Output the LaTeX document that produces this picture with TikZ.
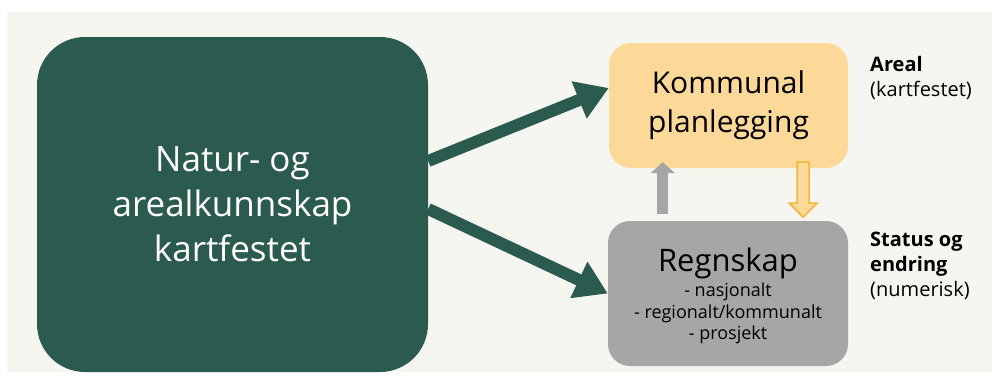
\documentclass[tikz,border=0pt]{standalone}
\usepackage{fontspec}
\setmainfont{Open Sans}
\usetikzlibrary{arrows.meta,calc}

\definecolor{panelbg}{RGB}{246,246,240}
\definecolor{darkgreen}{RGB}{43,91,78}
\definecolor{lightorange}{RGB}{253,217,153}
\definecolor{lineorange}{RGB}{245,180,60}
\definecolor{boxgrey}{RGB}{166,166,166}

\begin{document}
\begin{tikzpicture}[x=1pt,y=1pt]
    \tikzstyle{every node}=[inner sep=0pt]
    \tikzstyle{box}=[rounded corners=22pt]
    \tikzstyle{greenarrow}=[darkgreen,line width=12pt,-{Triangle[length=32pt,width=38pt]}]
    \tikzstyle{greyarrow}=[boxgrey,line width=11pt,-{Triangle[length=11pt,width=24pt]}]

    \useasboundingbox (0,0) rectangle (992,376);
    \fill[panelbg] (7,4) rectangle (992,364);

    \node[box,rounded corners=48pt,fill=darkgreen,minimum width=391pt,minimum height=335pt,
    text=white,align=center,font=\fontsize{35}{45}\selectfont] (natur) at (232.5,171.5)
    {Natur- og\\arealkunnskap\\kartfestet};

    \node[box,fill=lightorange,minimum width=239pt,minimum height=125pt,align=center,
    font=\fontsize{30}{39}\selectfont] (kommunal) at (728.5,270.5) {Kommunal\\planlegging};

    \node[box,fill=boxgrey,minimum width=240pt,minimum height=145pt] (regnskap) at (728,82.5) {};
    \node[anchor=base,font=\fontsize{31}{33}\selectfont] (regnskaptitle) at (728,105) {Regnskap};
    \node[anchor=north,align=center,font=\fontsize{18}{21.5}\selectfont] (regnskapliste)
    at (728,93) {- nasjonalt\\- regionalt/kommunalt\\- prosjekt};

    \node[anchor=north west,align=left,font=\fontsize{20}{25}\selectfont] (areal) at (870,320)
    {\textbf{Areal}\\(kartfestet)};

    \node[anchor=north west,align=left,font=\fontsize{20}{25}\selectfont] (status) at (870,144)
    {\textbf{Status og}\\\textbf{endring}\\(numerisk)};

    \draw[greenarrow] ($(natur.east)+(0,43.5)$) -- ($(kommunal.west)+(0,17.5)$);

    \draw[greenarrow] ($(natur.east)+(0,-4.5)$) -- (regnskap.west);

    \draw[greyarrow] ($(regnskap.north west)+(55,7)$) -- ($(kommunal.south west)+(54,6)$);

    \coordinate (ortop) at ($(kommunal.south east)+(-45,6)$);
    \draw[lineorange,fill=lightorange,line width=1.5pt,line join=miter] (ortop) ++(-6,0)
    -- ++(0,-41) -- ++(-8,0) -- ++(14,-14) -- ++(14,14) -- ++(-8,0) -- ++(0,41) -- cycle;

\end{tikzpicture}
\end{document}
